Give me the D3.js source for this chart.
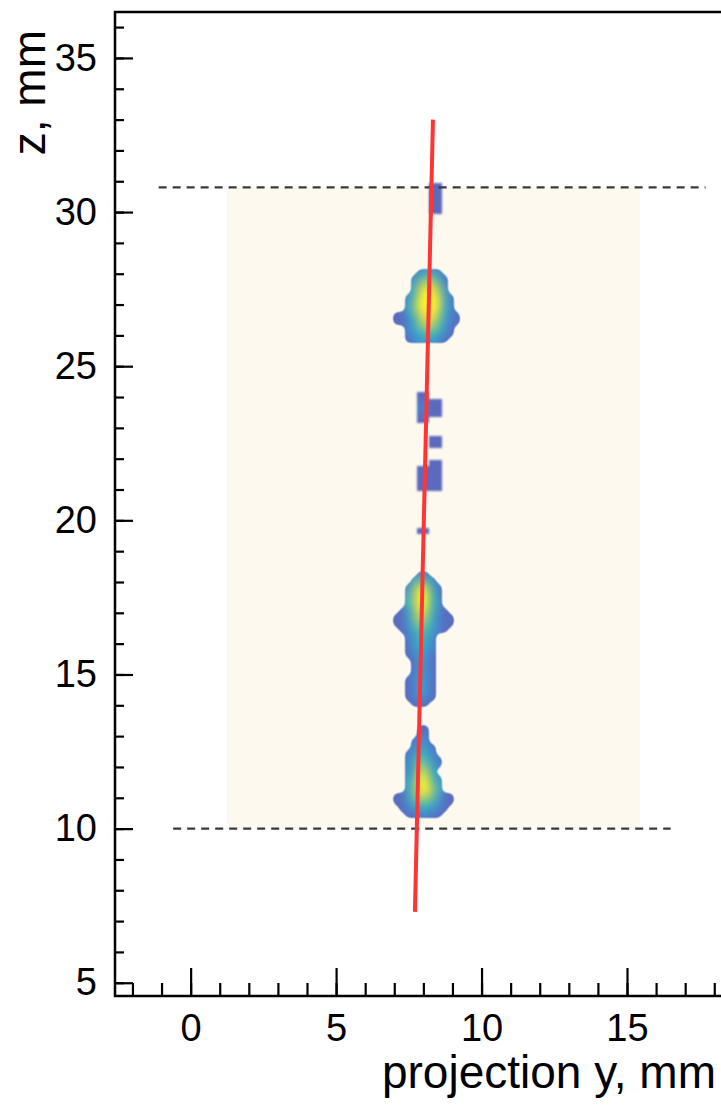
<!DOCTYPE html>
<html>
<head>
<meta charset="utf-8">
<script src="https://cdn.jsdelivr.net/npm/d3@7"></script>
<style>
  body { margin: 0; background: #fff; }
  svg { display: block; }
  text { font-family: "Liberation Sans", Arial, Helvetica, sans-serif; fill: #000; }
</style>
</head>
<body>
<div id="chart"></div>
<script>
// axis ranges (mm)
const xDomain = [-2.6, 18.3]
const zDomain = [4.57, 36.49]
const xMajorTicks = [0, 5, 10, 15]
const zMajorTicks = [5, 10, 15, 20, 25, 30, 35]

// fiducial volume and its boundaries
const bandY = [1.25, 15.45]
const bandZ = [10, 30.8]
const topCut = {z: 30.8, y: [-1.1, 17.7]}
const bottomCut = {z: 10, y: [-0.6, 16.5]}

// fitted track
const fitY = [7.71, 8.33]
const fitZ = [7.3, 33.0]

// 2D charge histogram: bins of 0.21 mm in y, 0.2 mm in z
const yBinStart = 6.53, yBinWidth = 0.21
const zBinStart = 10.35, zBinHeight = 0.2

// each cluster: first z-bin row, first y-bin column, counts (rows bottom to top)
const bottomCluster = {row: 0, col: 2, counts: [
  [0, 0, 1, 1, 2, 2, 1, 1, 0, 0],
  [0, 1, 2, 3, 4, 4, 3, 2, 1, 0],
  [1, 1, 3, 5, 6, 6, 5, 3, 1, 1],
  [1, 1, 3, 6, 8, 8, 6, 3, 1, 1],
  [0, 0, 3, 6, 9, 10, 7, 4, 0, 0],
  [0, 0, 3, 6, 10, 10, 6, 3, 0, 0],
  [0, 0, 3, 5, 9, 9, 5, 2, 0, 0],
  [0, 0, 2, 5, 8, 8, 4, 0, 0, 0],
  [0, 0, 2, 4, 7, 6, 3, 2, 0, 0],
  [0, 0, 2, 4, 6, 5, 3, 1, 0, 0],
  [0, 0, 1, 3, 5, 4, 2, 0, 0, 0],
  [0, 0, 0, 2, 4, 3, 1, 0, 0, 0],
  [0, 0, 0, 1, 3, 2, 0, 0, 0, 0],
  [0, 0, 0, 0, 2, 2, 0, 0, 0, 0],
  [0, 0, 0, 0, 1, 1, 0, 0, 0, 0]
]}

const middleCluster = {row: 18, col: 2, counts: [
  [0, 0, 0, 1, 1, 1, 0, 0, 0, 0],
  [0, 0, 1, 2, 3, 2, 1, 0, 0, 0],
  [0, 0, 1, 2, 4, 3, 1, 0, 0, 0],
  [0, 0, 1, 2, 4, 3, 1, 0, 0, 0],
  [0, 0, 1, 2, 3, 3, 1, 0, 0, 0],
  [0, 0, 0, 2, 3, 3, 1, 0, 0, 0],
  [0, 0, 0, 1, 3, 3, 1, 0, 0, 0],
  [0, 0, 0, 1, 3, 3, 1, 0, 0, 0],
  [0, 0, 1, 2, 4, 3, 1, 0, 0, 0],
  [0, 0, 1, 3, 4, 4, 2, 0, 0, 0],
  [0, 0, 1, 3, 5, 4, 2, 0, 0, 0],
  [0, 0, 2, 3, 5, 5, 2, 0, 0, 0],
  [0, 1, 2, 4, 6, 5, 3, 2, 1, 0],
  [1, 1, 3, 5, 7, 6, 4, 2, 1, 1],
  [1, 1, 3, 6, 8, 7, 4, 2, 1, 1],
  [0, 1, 3, 6, 9, 8, 5, 2, 1, 0],
  [0, 0, 4, 7, 10, 9, 5, 2, 0, 0],
  [0, 0, 4, 7, 10, 10, 5, 2, 0, 0],
  [0, 0, 3, 7, 10, 9, 5, 1, 0, 0],
  [0, 0, 2, 6, 9, 8, 4, 1, 0, 0],
  [0, 0, 0, 3, 6, 5, 2, 0, 0, 0],
  [0, 0, 0, 0, 2, 2, 0, 0, 0, 0]
]}

const topCluster = {row: 77, col: 2, counts: [
  [0, 0, 1, 2, 3, 3, 3, 2, 1, 0, 0],
  [0, 0, 2, 3, 4, 5, 5, 4, 2, 1, 0],
  [0, 0, 2, 4, 6, 7, 7, 5, 3, 1, 0],
  [1, 1, 2, 4, 7, 8, 8, 6, 3, 2, 1],
  [1, 1, 3, 5, 8, 9, 9, 7, 4, 2, 1],
  [0, 0, 3, 6, 9, 10, 10, 8, 4, 2, 0],
  [0, 0, 3, 6, 10, 10, 10, 9, 4, 2, 0],
  [0, 0, 2, 5, 9, 10, 10, 8, 4, 1, 0],
  [0, 0, 0, 4, 8, 10, 9, 7, 3, 0, 0],
  [0, 0, 0, 3, 7, 8, 8, 6, 2, 0, 0],
  [0, 0, 0, 2, 5, 6, 6, 4, 1, 0, 0],
  [0, 0, 0, 0, 2, 3, 3, 2, 0, 0, 0]
]}

// isolated low hits between and above the clusters
const hitsD = {row: 46, col: 6, counts: [[1, 1]]}
const hitsC = {row: 53, col: 6, counts: [
  [1, 1, 1, 1], [1, 1, 1, 1], [1, 1, 1, 1], [1, 1, 1, 1], [0, 0, 1, 1]
]}
const hitsB = {row: 60, col: 8, counts: [[1, 1], [1, 1]]}
const hitsA = {row: 64, col: 6, counts: [
  [1, 1, 0, 0], [1.5, 1.5, 1, 1], [2, 2, 1, 1], [1.5, 1.5, 1, 1], [1, 1, 0, 0]
]}
const hitsTop = {row: 98, col: 8, counts: [[1, 1], [1, 1], [1, 1], [1, 1], [1, 1]]}

const clusters = [bottomCluster, middleCluster, topCluster]
const isolatedHits = [hitsD, hitsC, hitsB, hitsA, hitsTop]

const paletteStops = [1, 2, 3, 4, 5, 6, 7, 8, 9, 10]
const paletteColors = ['#5b6bbd', '#4c7fcb', '#3f97d2', '#2eaecb', '#3dbbb0',
                       '#72c38e', '#a6c96e', '#d4d251', '#f2e33a', '#fff22e']

let width = 721
let height = 1108
let margin = {top: 12, left: 115, bottom: 996, right: 723}

let svg = d3.select('#chart').append('svg')
            .attr('width', width)
            .attr('height', height)

let x = d3.scaleLinear().domain(xDomain).range([margin.left, margin.right])
let y = d3.scaleLinear().domain(zDomain).range([margin.bottom, margin.top])
let color = d3.scaleLinear().domain(paletteStops).range(paletteColors).clamp(true)

// smoothing filter: blur colours inside the blobs, round off the blocky outline
let defs = svg.append('defs')
let filt = defs.append('filter').attr('id', 'smooth')
    .attr('x', '-20%').attr('y', '-5%').attr('width', '140%').attr('height', '110%')
    .attr('color-interpolation-filters', 'sRGB')
filt.append('feGaussianBlur').attr('in', 'SourceGraphic').attr('stdDeviation', 4.5).attr('result', 'b')
filt.append('feComponentTransfer').attr('in', 'b').attr('result', 'c')
    .append('feFuncA').attr('type', 'linear').attr('slope', 40)
filt.append('feGaussianBlur').attr('in', 'SourceAlpha').attr('stdDeviation', 3).attr('result', 'ab')
filt.append('feComponentTransfer').attr('in', 'ab').attr('result', 'mask')
    .append('feFuncA').attr('type', 'linear').attr('slope', 4).attr('intercept', -1.5)
filt.append('feComposite').attr('in', 'c').attr('in2', 'mask').attr('operator', 'in')

// lighter softening for the isolated hits
defs.append('filter').attr('id', 'soft')
    .attr('x', '-20%').attr('y', '-20%').attr('width', '140%').attr('height', '140%')
    .append('feGaussianBlur').attr('stdDeviation', 0.8)

// fiducial band
svg.append('rect')
   .attr('x', x(bandY[0]))
   .attr('y', y(bandZ[1]))
   .attr('width', x(bandY[1]) - x(bandY[0]))
   .attr('height', y(bandZ[0]) - y(bandZ[1]))
   .attr('fill', '#fdf9ee')

// histogram cells
function toCells(list) {
  let cells = []
  list.forEach(function(cl) {
    cl.counts.forEach(function(row, i) {
      row.forEach(function(v, j) {
        if (v > 0) cells.push({
          y0: yBinStart + (cl.col + j) * yBinWidth,
          z0: zBinStart + (cl.row + i) * zBinHeight,
          v: v
        })
      })
    })
  })
  return cells
}

function drawCells(cells, filterId) {
  svg.append('g')
     .attr('filter', `url(#${filterId})`)
     .selectAll('rect')
     .data(cells)
     .enter().append('rect')
       .attr('x', function(d) { return x(d.y0) })
       .attr('y', function(d) { return y(d.z0 + zBinHeight) })
       .attr('width', function(d) { return x(d.y0 + yBinWidth) - x(d.y0) })
       .attr('height', function(d) { return y(d.z0) - y(d.z0 + zBinHeight) })
       .attr('fill', function(d) { return color(d.v) })
       .attr('shape-rendering', 'crispEdges')
}

drawCells(toCells(clusters), 'smooth')
drawCells(toCells(isolatedHits), 'soft')

// dashed cut lines
;[topCut, bottomCut].forEach(function(c) {
  svg.append('line')
     .attr('x1', x(c.y[0])).attr('x2', x(c.y[1]))
     .attr('y1', y(c.z)).attr('y2', y(c.z))
     .attr('stroke', '#3a3a3a')
     .attr('stroke-width', 2.2)
     .attr('stroke-dasharray', '8,6')
})

// track fit
svg.append('line')
   .attr('x1', x(fitY[0])).attr('y1', y(fitZ[0]))
   .attr('x2', x(fitY[1])).attr('y2', y(fitZ[1]))
   .attr('stroke', '#ff3535')
   .attr('stroke-width', 4)

// axes, ticks pointing inward
let zMinor = d3.range(5, 37)
let xMinor = d3.range(-2, 19)

let yAxisG = svg.append('g').attr('transform', `translate(${margin.left},0)`)
yAxisG.call(d3.axisLeft(y).tickValues(zMinor).tickSize(-9).tickFormat(''))
yAxisG.append('g').call(d3.axisLeft(y).tickValues(zMajorTicks).tickSize(-18).tickFormat(d3.format('d')))

let xAxisG = svg.append('g').attr('transform', `translate(0,${margin.bottom})`)
xAxisG.call(d3.axisBottom(x).tickValues(xMinor).tickSize(-13).tickFormat(''))
xAxisG.append('g').call(d3.axisBottom(x).tickValues(xMajorTicks).tickSize(-28).tickFormat(d3.format('d')).tickPadding(18))

svg.selectAll('.domain').remove()
svg.selectAll('.tick line').attr('stroke', '#000').attr('stroke-width', 2.2)
yAxisG.selectAll('text').attr('font-size', 38).attr('fill', '#000').attr('text-anchor', 'end').attr('x', -18)
xAxisG.selectAll('text').attr('font-size', 38).attr('fill', '#000')

// frame
svg.append('path')
   .attr('d', `M${margin.right},${margin.top}H${margin.left}V${margin.bottom}H${margin.right}`)
   .attr('fill', 'none')
   .attr('stroke', '#000')
   .attr('stroke-width', 2.5)

// titles
svg.append('text')
   .attr('x', 716).attr('y', 1088)
   .attr('text-anchor', 'end')
   .attr('font-size', 46)
   .text('projection y, mm')

svg.append('text')
   .attr('transform', 'translate(45,30) rotate(-90)')
   .attr('text-anchor', 'end')
   .attr('font-size', 46)
   .text('z, mm')
</script>
</body>
</html>
